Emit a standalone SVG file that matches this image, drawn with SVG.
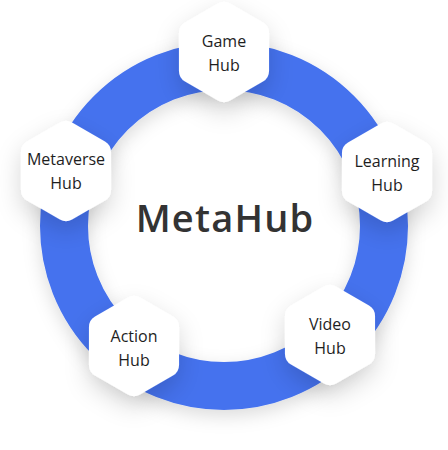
<svg xmlns="http://www.w3.org/2000/svg" width="448" height="450" viewBox="0 0 448 450">
<style>
.lbl{font-family:"Open Sans","Noto Sans","Liberation Sans",sans-serif;font-size:16px;fill:#1e1e1e;text-anchor:middle}
.title{font-family:"Open Sans","Noto Sans","Liberation Sans",sans-serif;font-size:38px;font-weight:600;letter-spacing:1.2px;fill:#333333;text-anchor:middle}
.hex{fill:#ffffff}
</style>
<defs>
<filter id="sh" x="-60%" y="-60%" width="220%" height="220%">
<feDropShadow dx="0" dy="10" stdDeviation="12" flood-color="#000000" flood-opacity="0.16"/>
</filter>
<filter id="rsh" x="-20%" y="-20%" width="140%" height="140%">
<feDropShadow dx="0" dy="6" stdDeviation="9" flood-color="#000000" flood-opacity="0.14"/>
</filter>
<path id="hx" d="M -6.06,-48.5 Q 0,-52 6.06,-48.5 L 38.97,-29.5 Q 45.03,-26 45.03,-19 L 45.03,19 Q 45.03,26 38.97,29.5 L 6.06,48.5 Q 0,52 -6.06,48.5 L -38.97,29.5 Q -45.03,26 -45.03,19 L -45.03,-19 Q -45.03,-26 -38.97,-29.5 Z"/>
</defs>
<rect width="448" height="450" fill="#ffffff"/>
<g id="connectors">
<circle cx="224" cy="226" r="160" fill="none" stroke="#4572ee" stroke-width="48" filter="url(#rsh)"/>
</g>
<g id="center">
<text class="title" x="225" y="232">MetaHub</text>
</g>
<g id="game-hub">
<use href="#hx" class="hex" transform="translate(224,52)" filter="url(#sh)"/>
<text class="lbl" x="224" y="47">Game</text>
<text class="lbl" x="224" y="71">Hub</text>
</g>
<g id="metaverse-hub">
<use href="#hx" class="hex" transform="translate(66,171)" filter="url(#sh)"/>
<text class="lbl" x="66" y="165">Metaverse</text>
<text class="lbl" x="66" y="189">Hub</text>
</g>
<g id="learning-hub">
<use href="#hx" class="hex" transform="translate(387,172)" filter="url(#sh)"/>
<text class="lbl" x="387" y="167">Learning</text>
<text class="lbl" x="387" y="191">Hub</text>
</g>
<g id="video-hub">
<use href="#hx" class="hex" transform="translate(330,335)" filter="url(#sh)"/>
<text class="lbl" x="330" y="330">Video</text>
<text class="lbl" x="330" y="354">Hub</text>
</g>
<g id="action-hub">
<use href="#hx" class="hex" transform="translate(134,346)" filter="url(#sh)"/>
<text class="lbl" x="134" y="342">Action</text>
<text class="lbl" x="134" y="366">Hub</text>
</g>
</svg>
